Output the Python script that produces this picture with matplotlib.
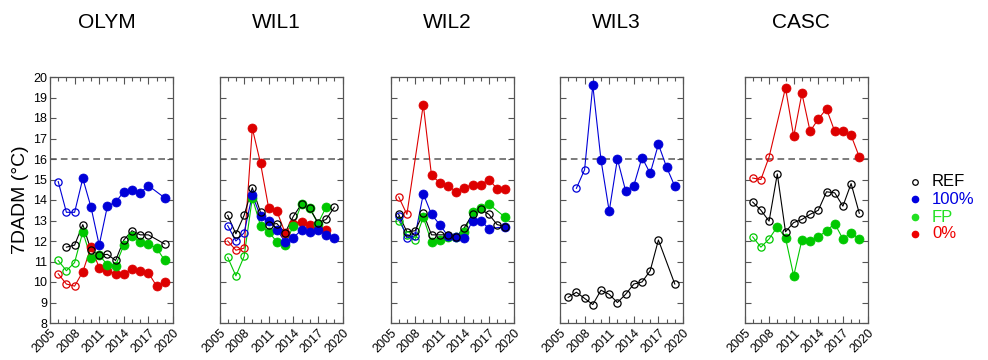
import matplotlib
matplotlib.use("Agg")
import matplotlib.pyplot as plt
from matplotlib.ticker import MultipleLocator, FixedLocator

plt.rcParams['font.family'] = ['Liberation Sans', 'DejaVu Sans']

years = list(range(2006, 2020))
treat_year = 2009

sites = ["OLYM", "WIL1", "WIL2", "WIL3", "CASC"]
series_names = ["REF", "100%", "FP", "0%"]

olym_ref = [None, 11.7, 11.8, 12.8, 11.55, 11.3, 11.35, 11.05, 12.05, 12.5, 12.3, 12.3, None, 11.85]
olym_100 = [14.9, 13.4, 13.4, 15.05, 13.65, 11.8, 13.7, 13.9, 14.4, 14.5, 14.35, 14.7, None, 14.1]
olym_fp = [11.05, 10.55, 10.95, 12.45, 11.15, 11.3, 10.85, 10.8, 11.8, 12.25, 11.95, 11.85, 11.65, 11.05]
olym_0 = [10.4, 9.9, 9.8, 10.5, 11.7, 10.7, 10.55, 10.4, 10.4, 10.65, 10.55, 10.45, 9.8, 10.0]

wil1_ref = [13.25, 12.35, 13.25, 14.6, 13.4, 12.8, 12.85, 12.4, 13.2, 13.8, 13.6, 12.9, 13.05, 13.65]
wil1_100 = [12.75, 12.0, 12.4, 14.25, 13.2, 13.0, 12.55, 11.95, 12.15, 12.55, 12.45, 12.55, 12.3, 12.15]
wil1_fp = [11.2, 10.3, 11.25, 14.1, 12.75, 12.45, 11.95, 11.8, 12.75, 13.8, 13.6, 12.85, 13.65, None]
wil1_0 = [12.0, 11.55, 11.65, 17.5, 15.8, 13.6, 13.45, 12.4, 12.85, 12.95, 12.8, 12.6, 12.55, None]

wil2_ref = [13.3, 12.45, 12.5, 13.35, 12.3, 12.3, 12.3, 12.2, 12.65, 13.3, 13.55, 13.3, 12.8, 12.7]
wil2_100 = [13.2, 12.15, 12.25, 14.3, 13.3, 12.8, 12.25, 12.2, 12.15, 13.0, 13.0, 12.6, None, 12.7]
wil2_fp = [13.0, 12.3, 12.05, 13.15, 11.95, 12.05, 12.2, 12.2, 12.45, 13.4, 13.6, 13.8, None, 13.15]
wil2_0 = [14.15, 13.3, None, 18.65, 15.2, 14.85, 14.7, 14.4, 14.6, 14.75, 14.75, 15.0, 14.55, 14.55]

wil3_ref = [9.25, 9.5, 9.2, 8.9, 9.6, 9.4, 9.0, 9.4, 9.9, 10.0, 10.55, 12.05, None, 9.9]
wil3_100 = [None, 14.57, 15.48, 19.6, 15.95, 13.45, 16.0, 14.45, 14.7, 16.07, 15.3, 16.72, 15.6, 14.67]

casc_ref = [13.9, 13.5, 12.97, 15.27, 12.45, 12.9, 13.05, 13.3, 13.5, 14.4, 14.35, 13.7, 14.8, 13.35]
casc_fp = [12.2, 11.7, 12.1, 12.7, 12.15, 10.3, 12.05, 12.0, 12.2, 12.5, 12.85, 12.1, 12.4, 12.1]
casc_0 = [15.07, 15.0, 16.1, None, 19.47, 17.1, 19.2, 17.35, 17.95, 18.45, 17.35, 17.35, 17.15, 16.1]

data = {
    "OLYM": {"REF": olym_ref, "100%": olym_100, "FP": olym_fp, "0%": olym_0},
    "WIL1": {"REF": wil1_ref, "100%": wil1_100, "FP": wil1_fp, "0%": wil1_0},
    "WIL2": {"REF": wil2_ref, "100%": wil2_100, "FP": wil2_fp, "0%": wil2_0},
    "WIL3": {"REF": wil3_ref, "100%": wil3_100},
    "CASC": {"REF": casc_ref, "FP": casc_fp, "0%": casc_0},
}

colors = {"REF": "#000000", "100%": "#0000d8", "FP": "#00c800", "0%": "#dd0000"}
legend_colors = {"REF": "#000000", "100%": "#0000e0", "FP": "#22e022", "0%": "#ee0000"}
draw_order = ["0%", "FP", "100%", "REF"]

W, H = 988, 360
fig = plt.figure(figsize=(W / 100, H / 100), dpi=100)

lefts = [50, 219.5, 390.5, 560, 744.5]
ax_w = 123
ax_top = 77
ax_bot = 323

frame_col = "#555555"

for i, site in enumerate(sites):
    ax = fig.add_axes([lefts[i] / W, (H - ax_bot) / H, ax_w / W, (ax_bot - ax_top) / H])
    ax.set_xlim(2005, 2020)
    ax.set_ylim(8, 20)
    ax.axhline(16, color="#666666", lw=1.2, ls=(0, (4, 2.5)), zorder=1)
    for s in draw_order:
        if s not in data[site]:
            continue
        vals = data[site][s]
        xs = [y for y, v in zip(years, vals) if v is not None]
        ys = [v for v in vals if v is not None]
        c = colors[s]
        ax.plot(xs, ys, color=c, lw=0.8, zorder=2)
        for x, y in zip(xs, ys):
            if s == "REF" or x < treat_year:
                ax.plot([x], [y], marker="o", ms=5.2, mfc="none", mec=c, mew=0.9, zorder=3)
            else:
                ax.plot([x], [y], marker="o", ms=6.5, mfc=c, mec=c, mew=0.5, zorder=3)
    for sp in ax.spines.values():
        sp.set_color(frame_col)
        sp.set_linewidth(0.9)
    ax.xaxis.set_major_locator(FixedLocator([2005, 2008, 2011, 2014, 2017, 2020]))
    ax.xaxis.set_minor_locator(MultipleLocator(1))
    ax.yaxis.set_major_locator(MultipleLocator(1))
    ax.tick_params(axis="both", which="both", direction="in", top=True, right=True,
                   color=frame_col, width=0.8)
    ax.tick_params(axis="x", which="major", length=5)
    ax.tick_params(axis="x", which="minor", length=3)
    ax.tick_params(axis="y", which="major", length=4)
    ax.set_xticklabels(["2005", "2008", "2011", "2014", "2017", "2020"], rotation=45,
                       ha="right", va="top", rotation_mode="anchor", fontsize=9)
    ax.tick_params(axis="x", pad=3)
    if i == 0:
        ax.tick_params(axis="y", labelsize=9, pad=2)
        ax.set_ylabel("7DADM (°C)", fontsize=14, labelpad=3)
    else:
        ax.set_yticklabels([])
    cx = (lefts[i] + ax_w / 2 - 5) / W
    fig.text(cx, 1 - 22 / H, site, ha="center", va="center", fontsize=15)

# legend
leg_y = [182, 199, 217, 234]
for s, yy in zip(series_names, leg_y):
    c = legend_colors[s]
    if s == "REF":
        fig.lines.append(plt.Line2D([915 / W], [1 - yy / H], marker="o", ms=4, mfc="none",
                                    mec=c, mew=0.9, transform=fig.transFigure))
    else:
        fig.lines.append(plt.Line2D([915 / W], [1 - yy / H], marker="o", ms=4.5, mfc=c,
                                    mec=c, transform=fig.transFigure))
    fig.text(932 / W, 1 - yy / H, s, color=c, fontsize=12, ha="left", va="center")

fig.savefig("out.png", dpi=100)
